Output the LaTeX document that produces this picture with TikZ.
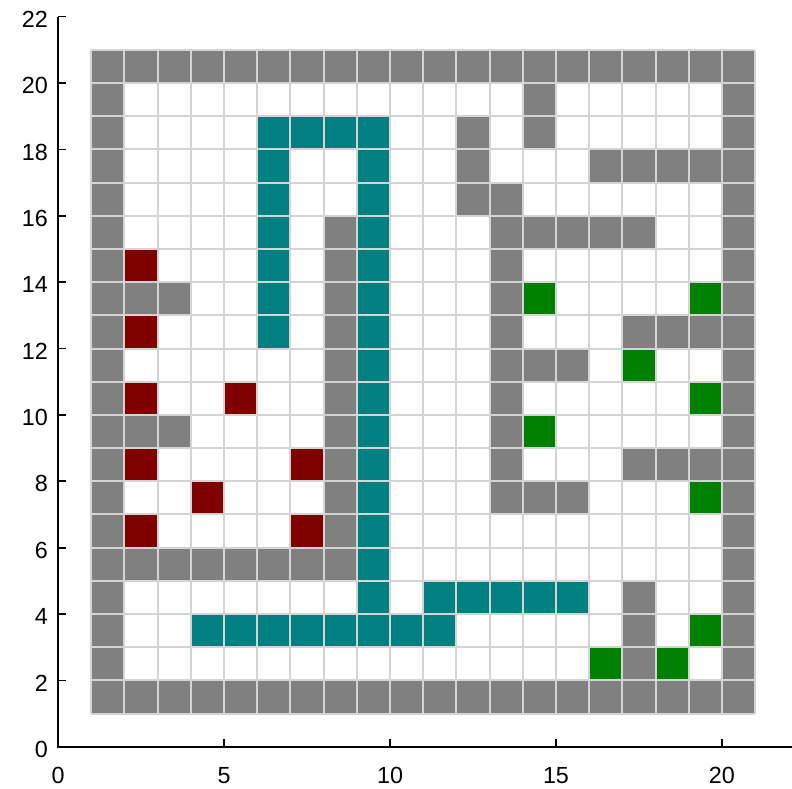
\documentclass[tikz,border=0pt]{standalone}
\usepackage{fontspec}
\setmainfont{Liberation Sans}
\definecolor{wallc}{HTML}{808080}
\definecolor{pathc}{HTML}{008080}
\definecolor{redc}{HTML}{800000}
\definecolor{greenc}{HTML}{008000}
\definecolor{gridc}{HTML}{D4D4D4}
\tikzset{
  wall/.style={fill=wallc},
  route/.style={fill=pathc},
  hot/.style={fill=redc},
  goal/.style={fill=greenc},
  axisline/.style={black, line width=0.05cm},
  ticklab/.style={font=\fontsize{20}{20}\selectfont, inner sep=0pt},
}
\begin{document}
\begin{tikzpicture}[x=1cm,y=1cm]
\useasboundingbox (-1.75,-1.24) rectangle (22.11,22.5);
% border walls
\fill[wallc] (1,1) rectangle (21,2);
\fill[wallc] (1,20) rectangle (21,21);
\fill[wallc] (1,1) rectangle (2,21);
\fill[wallc] (20,1) rectangle (21,21);
% interior walls (col/row)
\foreach \c/\r in {14/19, 12/18,14/18, 12/17,16/17,17/17,18/17,19/17, 12/16,13/16,
  8/15,13/15,14/15,15/15,16/15,17/15, 8/14,13/14, 2/13,3/13,8/13,13/13,
  8/12,13/12,17/12,18/12,19/12, 8/11,13/11,14/11,15/11, 8/10,13/10,
  2/9,3/9,8/9,13/9, 8/8,13/8,17/8,18/8,19/8, 8/7,13/7,14/7,15/7, 8/6,
  2/5,3/5,4/5,5/5,6/5,7/5,8/5, 17/4, 17/3, 17/2}
  \fill[wall] (\c,\r) rectangle ++(1,1);
% route
\foreach \c/\r in {6/18,7/18,8/18,9/18, 6/17,6/16,6/15,6/14,6/13,6/12,
  9/17,9/16,9/15,9/14,9/13,9/12,9/11,9/10,9/9,9/8,9/7,9/6,9/5,9/4,
  4/3,5/3,6/3,7/3,8/3,9/3,10/3,11/3, 11/4,12/4,13/4,14/4,15/4}
  \fill[route] (\c,\r) rectangle ++(1,1);
% red cells
\foreach \c/\r in {2/14,2/12,2/10,5/10,2/8,7/8,4/7,2/6,7/6}
  \fill[hot] (\c,\r) rectangle ++(1,1);
% green cells
\foreach \c/\r in {14/13,19/13,17/11,19/10,14/9,19/7,19/3,16/2,18/2}
  \fill[goal] (\c,\r) rectangle ++(1,1);
% grid lines
\draw[gridc, line width=0.06cm] (1,1) grid (21,21);
% axes
\coordinate (o) at (0,0);
\coordinate (xend) at (22.2,0);
\coordinate (yend) at (0,22);
\draw[axisline] (xend) -- (o) -- (yend);
\foreach \x in {0,5,10,15,20} {
  \draw[axisline] (\x,0) -- (\x,0.25);
  \node[ticklab, anchor=north] (xl\x) at (\x,-0.62) {\x};
}
\foreach \y in {0,2,...,22} {
  \draw[axisline] (0,\y) -- (0.25,\y);
  \node[ticklab, anchor=east] (yl\y) at (-0.3,\y-0.08) {\y};
}
\end{tikzpicture}
\end{document}
